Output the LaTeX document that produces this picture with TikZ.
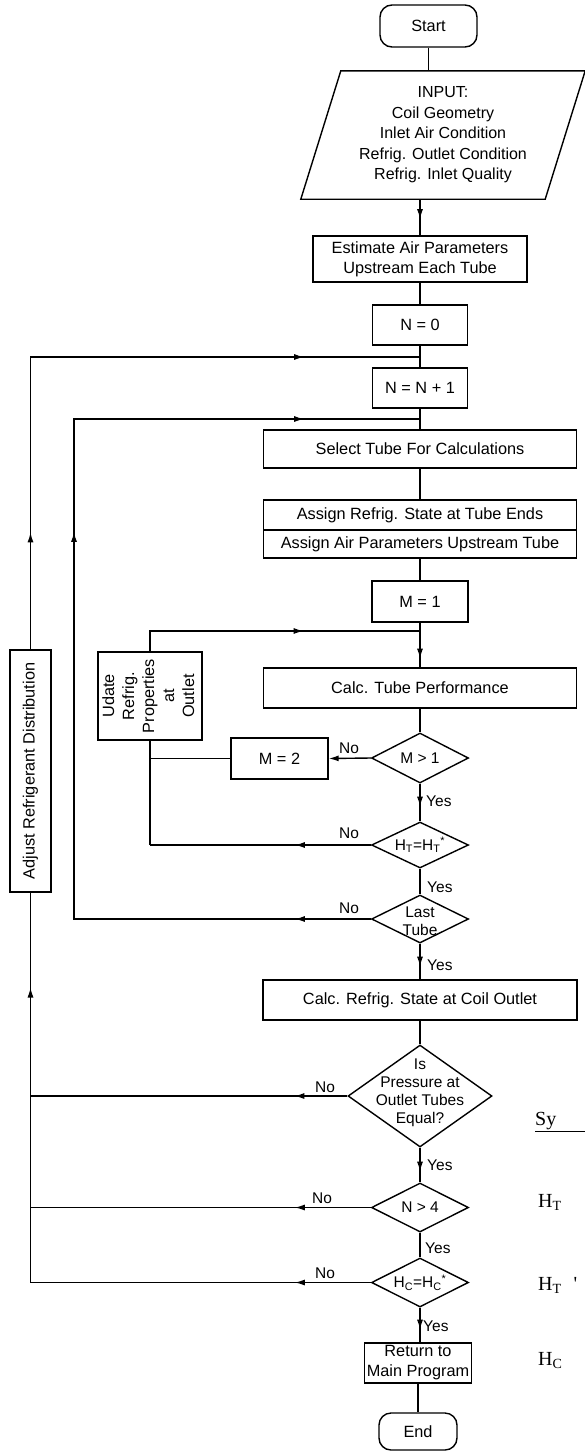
\documentclass[tikz,border=0pt]{standalone}
\usepackage{fontspec}
\setmainfont{Liberation Sans}
\newfontfamily\symfont{Liberation Serif}
\usetikzlibrary{shapes.geometric,arrows.meta,decorations.markings,calc}

\tikzset{
  flow/.style={line width=1.4pt},
  box/.style={draw, line width=1.4pt, rectangle, inner sep=0pt, align=center, font=\fontsize{16.3}{20}\selectfont},
  term/.style={box, rounded corners=12pt},
  dia/.style={draw, line width=1.4pt, diamond, inner sep=0pt},
  dtext/.style={align=center, font=\fontsize{15.5}{18}\selectfont, inner sep=0pt},
  lbl/.style={font=\fontsize{15.5}{18}\selectfont, inner sep=0pt},
  symtxt/.style={font=\symfont\fontsize{20}{24}\selectfont, inner sep=0pt, anchor=base west},
  midarr/.style={postaction={decorate, decoration={markings, mark=at position #1 with {\arrow{Latex[length=10pt,width=6pt]}}}}},
}

\begin{document}
\begin{tikzpicture}[x=1pt,y=-1pt]
\useasboundingbox (0,0) rectangle (584,1451);

% ---------- main column ----------
\node[term, minimum width=97pt, minimum height=42pt] (start) at (428.5,26) {Start};
\node[inner sep=0pt, minimum width=244pt, minimum height=128pt, align=center,
      font=\fontsize{16}{20.5}\selectfont] (inp) at (443,135)
      {INPUT:\\Coil Geometry\\Inlet Air Condition\\Refrig. Outlet Condition\\Refrig. Inlet Quality};
\draw[flow] ([xshift=20pt]inp.north west) -- ([xshift=20pt]inp.north east)
   -- ([xshift=-20pt]inp.south east) -- ([xshift=-20pt]inp.south west) -- cycle;

\node[box, minimum width=214pt, minimum height=46pt] (est) at (420,259) {Estimate Air Parameters\\Upstream Each Tube};
\node[box, minimum width=95pt, minimum height=40pt] (n0) at (420,325) {N = 0};
\node[box, minimum width=95pt, minimum height=40pt] (n1) at (420,388) {N = N + 1};
\node[box, minimum width=313pt, minimum height=38pt] (sel) at (420,449) {Select Tube For Calculations};
\node[box, minimum width=313pt, minimum height=30pt] (as1) at (420,515) {Assign Refrig. State at Tube Ends};
\node[box, minimum width=313pt, minimum height=28pt] (as2) at (420,544) {Assign Air Parameters Upstream Tube};
\node[box, minimum width=96pt, minimum height=41pt] (m1) at (420,601.5) {M = 1};
\node[box, minimum width=313pt, minimum height=40pt] (ctp) at (420,688) {Calc. Tube Performance};

\node[dia, minimum width=97pt, minimum height=50pt] (mg1) at (420,758) {};
\node[dtext] (mg1t) at (mg1) {M > 1};
\node[box, minimum width=97pt, minimum height=41pt] (m2) at (279.5,758.5) {M = 2};
\node[box, minimum width=104pt, minimum height=88pt] (upd) at (150,696)
  {\rotatebox{90}{\begin{tabular}{@{}c@{}}Udate\\Refrig.\\Properties\\at\\Outlet\end{tabular}}};

\node[dia, minimum width=97pt, minimum height=46pt] (ht) at (420,845) {};
\node[dtext] (htt) at (ht) {H\textsubscript{T}=H\textsubscript{T}\textsuperscript{*}};
\node[dia, minimum width=97pt, minimum height=48pt] (lt) at (420,919) {};
\node[dtext] (ltt) at (420,921) {Last\\Tube};

\node[box, minimum width=314pt, minimum height=40pt] (cro) at (420,1000) {Calc. Refrig. State at Coil Outlet};
\node[dia, minimum width=144pt, minimum height=102pt] (isp) at (420,1096) {};
\node[dtext] (ispt) at (420,1093) {Is\\Pressure at\\Outlet Tubes\\Equal?};
\node[dia, minimum width=97pt, minimum height=49pt] (n4) at (420,1207.5) {};
\node[dtext] (n4t) at (n4) {N > 4};
\node[dia, minimum width=97pt, minimum height=49pt] (hc) at (420,1282.5) {};
\node[dtext] (hct) at (hc) {H\textsubscript{C}=H\textsubscript{C}\textsuperscript{*}};
\node[box, minimum width=107pt, minimum height=40pt] (ret) at (418,1363) {Return to\\Main Program};
\node[term, minimum width=78pt, minimum height=37pt] (end) at (418,1431.5) {End};

\node[box, minimum width=41pt, minimum height=242pt] (adj) at (30.5,771) {\rotatebox{90}{Adjust Refrigerant Distribution}};

% ---------- main connectors ----------
\draw[flow] (start.south) -- (start.south |- inp.north);
\draw[flow, midarr=20pt] (est.north |- inp.south) -- (est.north);
\draw[flow] (est.south) -- (n0.north);
\draw[flow] (n0.south) -- (n1.north);
\draw[flow] (n1.south) -- (sel.north);
\draw[flow] (sel.south) -- (as1.north);
\draw[flow] (as2.south) -- (m1.north);
\draw[flow, midarr=36pt] (m1.south) -- (ctp.north);
\draw[flow] (ctp.south) -- (mg1.north);
\draw[flow, midarr=23pt] (mg1.south) -- (ht.north);
\draw[flow] (ht.south) -- (lt.north);
\draw[flow, midarr=23pt] (lt.south) -- (cro.north);
\draw[flow] (cro.south) -- (isp.north);
\draw[flow, midarr=24pt] (isp.south) -- (n4.north);
\draw[flow] (n4.south) -- (hc.north);
\draw[flow, midarr=22pt] (hc.south) -- (hc.south |- ret.north);
\draw[flow] (ret.south) -- (end.north);

% ---------- junctions ----------
\coordinate (jN) at (420,357);
\coordinate (jS) at (420,419);
\coordinate (jM) at (420,631);
\coordinate (ix) at (74,419);

% outer loop
\draw[flow, midarr=117pt, midarr=566pt] (adj.north) -- (adj.north |- jN) -- (jN);
\draw[flow, midarr=53pt] (isp.west) -- (adj.south |- isp.west);
\draw[flow, midarr=76pt] (n4.west) -- (adj.south |- n4.west);
\draw[flow, midarr=76pt] (hc.west) -- (adj.south |- hc.west);
\draw[flow, midarr=295pt] (adj.south |- hc.west) -- (adj.south);

% inner (tube) loop
\draw[flow, midarr=76pt, midarr=684pt, midarr=1027pt] (lt.west) -- (lt.west -| ix) -- (ix) -- (jS);

% update loop
\draw[flow, midarr=174pt] (upd.north) -- (upd.north |- jM) -- (jM);
\draw[flow, -{Latex[length=10pt,width=6pt]}] (mg1.west) -- (m2.east);
\draw[flow] (m2.west) -- (m2.west -| upd.south);
\draw[flow, midarr=76pt] (ht.west) -- (ht.west -| upd.south);
\draw[flow] (ht.west -| upd.south) -- (upd.south);

% ---------- Yes / No labels ----------
\node[lbl, anchor=west] (y1) at (426,801) {Yes};
\node[lbl, anchor=west] (y2) at (427,887) {Yes};
\node[lbl, anchor=west] (y3) at (427,965) {Yes};
\node[lbl, anchor=west] (y4) at (427,1165) {Yes};
\node[lbl, anchor=west] (y5) at (425,1248) {Yes};
\node[lbl, anchor=west] (y6) at (423,1326) {Yes};
\node[lbl] (no1) at (349,748) {No};
\node[lbl] (no2) at (349,833) {No};
\node[lbl] (no3) at (349,908) {No};
\node[lbl] (no4) at (325,1087) {No};
\node[lbl] (no5) at (322,1198) {No};
\node[lbl] (no6) at (325,1273) {No};

% ---------- symbols (cut at the right edge) ----------
\node[symtxt] (sy) at (535,1125) {\underline{Sy\hspace{30pt}}};
\node[symtxt] (sht) at (538,1207) {H\textsubscript{T}};
\node[symtxt] (shtp) at (538,1290) {H\textsubscript{T}\hspace{12pt}'};
\node[symtxt] (shc) at (538,1365) {H\textsubscript{C}};
\end{tikzpicture}
\end{document}
